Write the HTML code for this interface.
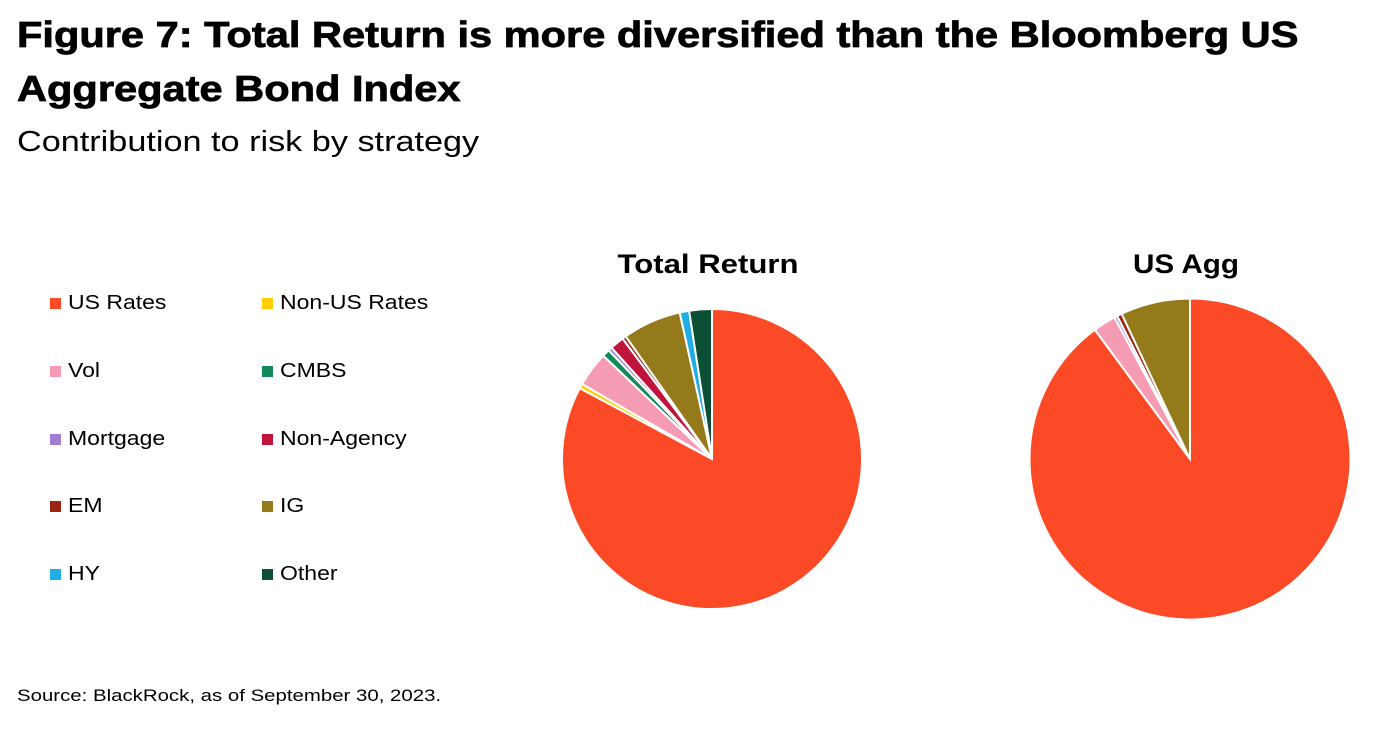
<!DOCTYPE html>
<html><head><meta charset="utf-8"><style>
body{margin:0;width:1376px;height:742px;background:#fff;font-family:"Liberation Sans",sans-serif;position:relative;overflow:hidden;color:#000}
.t{position:absolute;left:17px;font-weight:900;font-size:36px;line-height:54px;top:8px;-webkit-text-stroke:0.8px #000;transform:scaleX(1.155);transform-origin:0 0;white-space:nowrap}
.s{position:absolute;left:17px;top:126px;font-size:29px;transform:scaleX(1.18);transform-origin:0 0;white-space:nowrap}
.src{position:absolute;left:17px;top:686px;font-size:17px;transform:scaleX(1.2);transform-origin:0 0;white-space:nowrap}
.lg{position:absolute;font-size:20px;display:flex;align-items:center;white-space:nowrap}
.lg i{display:inline-block;width:11px;height:11px;margin-right:7px}
.lg span{display:inline-block;transform:scaleX(1.15);transform-origin:0 50%}
</style></head><body>
<div class="t">Figure 7: Total Return is more diversified than the Bloomberg US<br>Aggregate Bond Index</div>
<div class="s">Contribution to risk by strategy</div>
<div id="legend"></div>
<svg id="svg" width="1376" height="742" style="position:absolute;left:0;top:0"></svg>
<div class="src">Source: BlackRock, as of September 30, 2023.</div>
<script>
const categories=["US Rates","Non-US Rates","Vol","CMBS","Mortgage","Non-Agency","EM","IG","HY","Other"];
const colors=["#FC4A26","#FFCE00","#F59BB4","#138A5B","#A07ED6","#C0143C","#9B2510","#947A1A","#1FADE4","#0B4F35"];
const totalReturn=[81.5,0.5,3.7,0.8,0.4,1.5,0.4,6.2,1.0,2.4];
const usAgg=[89.9,0,2.3,0,0.3,0,0.5,7.0,0,0];
const pieTitles=["Total Return","US Agg"];
const NS="http://www.w3.org/2000/svg";
const svg=document.getElementById('svg');
const lg=document.getElementById('legend');
categories.forEach((c,i)=>{
  const d=document.createElement('div');d.className='lg';
  
  
  d.style.left=(i%2?262:50)+'px';d.style.top=(292+Math.floor(i/2)*67.8)+'px';
  d.innerHTML='<i style="background:'+colors[i]+'"></i><span>'+c+'</span>';lg.appendChild(d);
});
function pie(vals,cx,cy,r,title,key,tw){
  const tot=vals.reduce((a,b)=>a+b,0);let a=0;
  vals.forEach((v,i)=>{
    if(v<=0)return;
    const a0=a,a1=a+v/tot*2*Math.PI;a=a1;
    const x0=cx+r*Math.sin(a0),y0=cy-r*Math.cos(a0),x1=cx+r*Math.sin(a1),y1=cy-r*Math.cos(a1);
    const p=document.createElementNS(NS,'path');
    p.setAttribute('d',`M${cx},${cy}L${x0},${y0}A${r},${r} 0 ${a1-a0>Math.PI?1:0} 1 ${x1},${y1}Z`);
    p.setAttribute('fill',colors[i]);p.setAttribute('stroke','#fff');p.setAttribute('stroke-width','2');
    
    
    svg.appendChild(p);
  });
  const t=document.createElementNS(NS,'text');
  t.setAttribute('x',cx-4);t.setAttribute('y',273);t.setAttribute('text-anchor','middle');
  t.setAttribute('font-size','27');t.setAttribute('font-weight','bold');t.setAttribute('font-family','Liberation Sans, sans-serif');
  t.setAttribute('textLength',tw);t.setAttribute('lengthAdjust','spacingAndGlyphs');
  t.textContent=title;
  
  
  svg.appendChild(t);
}
pie(totalReturn,712,459,150,pieTitles[0],'total-return',181);
pie(usAgg,1190,459,160.5,pieTitles[1],'us-agg',106);
</script>
</body></html>
